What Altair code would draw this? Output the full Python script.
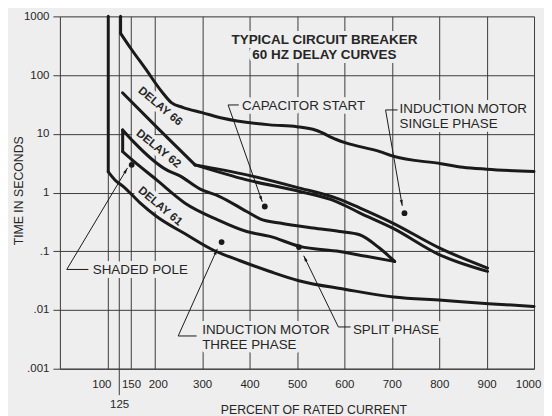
import math
import altair as alt
import pandas as pd

W, H = 475, 353
BG = "#eeeeee"
INK = "#1a1a1a"
GRID = "#3c3c3c"
TXT = "#262626"
FONT = "Liberation Sans"

# ---------------- axes ----------------
x_ticks = [100, 125, 150, 200, 300, 400, 500, 600, 700, 800, 900, 1000]
y_ticks = [0.001, 0.01, 0.1, 1, 10, 100, 1000]

# ---------------- curves (percent of rated current, seconds) ----------------
# DELAY 61
d61_vx = [102, 102]
d61_vt = [1000, 2.25]
d61_x = [102, 116, 134, 169, 204, 264, 323, 380, 443, 504, 603, 704, 806, 904, 1000]
d61_t = [2.25, 1.64, 1.265, 0.668, 0.391, 0.1985, 0.105, 0.069, 0.0453, 0.0315,
         0.0224, 0.0166, 0.0146, 0.0128, 0.0115]
# DELAY 66
d66_vx = [128, 128]
d66_vt = [1000, 514]
d66_x = [128, 150, 180, 215, 235, 260, 300, 344, 443, 500, 540, 583, 603, 675, 701,
         804, 850, 900, 1000]
d66_t = [514, 281, 130, 52, 34, 28, 23, 18.4, 14.2, 13.2, 11.5, 8.0, 7.0, 4.98, 4.2,
         3.1, 2.7, 2.5, 2.28]
# DELAY 62 entry line and its two branches
d62_px = [132, 210, 285]
d62_pt = [50, 11.65, 2.96]
d62lo_x = [285, 394, 506, 583, 632, 702, 801, 902]
d62lo_t = [2.96, 1.644, 1.04, 0.703, 0.452, 0.248, 0.087, 0.0454]
d62hi_x = [285, 394, 506, 583, 632, 702, 801, 902]
d62hi_t = [2.96, 2.0, 1.188, 0.803, 0.549, 0.302, 0.113, 0.0518]
# closed band (upper edge, lower edge, left side)
bu_x = [132.4, 155, 225, 253, 295, 337, 394, 422, 464, 534, 590, 632, 674, 706]
bu_t = [11.66, 7.37, 2.43, 1.92, 1.156, 0.855, 0.475, 0.357, 0.302, 0.248, 0.217,
        0.191, 0.1135, 0.067]
bl_x = [132.4, 148, 204, 264, 333, 394, 443, 506, 590, 646, 706]
bl_t = [4.98, 3.85, 1.64, 0.66, 0.343, 0.217, 0.179, 0.121, 0.099, 0.082, 0.067]
band_vx = [132.4, 132.4]
band_vt = [11.66, 4.98]

# ---------------- motor type markers ----------------
dot_x = [432.1, 726.8, 151.4, 341.0, 504.3]
dot_t = [0.578, 0.446, 2.96, 0.1434, 0.118]
# leader lines: stub end, corner, arrow tip
lead_names = ["cap", "single", "shaded", "three", "split"]
lead_x = [[377.3, 354.8, 426.8], [712.2, 686.9, 722.1], [60.0, 14.5, 142.6],
          [288.3, 249.5, 332.0], [613.2, 587.3, 514.2]]
lead_t = [[31.0, 31.0, 0.695], [25.5, 25.5, 0.594], [0.049, 0.049, 2.63],
          [0.00361, 0.00361, 0.110], [0.00514, 0.00514, 0.0838]]

lab_text = ["CAPACITOR START", "INDUCTION MOTOR", "SINGLE PHASE", "SHADED POLE",
            "INDUCTION MOTOR", "THREE PHASE", "SPLIT PHASE"]
lab_x = [384.3, 716.4, 716.4, 69.3, 300.1, 300.1, 618]
lab_t = [25.5, 22.35, 12.45, 0.0403, 0.00395, 0.00214, 0.00395]

title_text = ["TYPICAL CIRCUIT BREAKER", "60 HZ DELAY CURVES"]
title_x = [558, 558]
title_t = [344.7, 191.6]

delay_text = ["DELAY 66", "DELAY 62", "DELAY 61"]
delay_x = [211, 207.4, 211]
delay_t = [29.0, 5.5, 0.578]
delay_ang = [40, 39, 40]


# ---------------- frames ----------------
def rows(name, xs, ts):
    return [{"s": name, "o": i, "x": a, "t": b} for i, (a, b) in enumerate(zip(xs, ts))]


curve_df = pd.DataFrame(rows("d61", d61_x, d61_t) + rows("d66", d66_x, d66_t)
                        + rows("d62lo", d62lo_x, d62lo_t) + rows("d62hi", d62hi_x, d62hi_t)
                        + rows("bu", bu_x, bu_t) + rows("bl", bl_x, bl_t))
straight_df = pd.DataFrame(rows("v61", d61_vx, d61_vt) + rows("v66", d66_vx, d66_vt)
                           + rows("vb", band_vx, band_vt) + rows("p62", d62_px, d62_pt))
lead_rows = []
for n, xs, ts in zip(lead_names, lead_x, lead_t):
    lead_rows += rows(n, xs, ts)
lead_df = pd.DataFrame(lead_rows)


def to_px(x, t):
    return W * x / 1000.0, H * (3 - math.log10(t)) / 6.0


arrow_rows = []
for xs, ts in zip(lead_x, lead_t):
    ax, ay = to_px(xs[1], ts[1])
    bx, by = to_px(xs[2], ts[2])
    ang = math.degrees(math.atan2(bx - ax, -(by - ay))) % 360
    arrow_rows.append({"x": xs[2], "t": ts[2], "a": ang})
arrow_df = pd.DataFrame(arrow_rows)

dot_df = pd.DataFrame({"x": dot_x, "t": dot_t})
lab_df = pd.DataFrame({"x": lab_x, "t": lab_t, "txt": lab_text})
title_df = pd.DataFrame({"x": title_x, "t": title_t, "txt": title_text})
delay_df = pd.DataFrame({"x": delay_x, "t": delay_t, "txt": delay_text, "a": delay_ang})

# ---------------- scales / axes ----------------
xscale = alt.Scale(domain=[0, 1000], nice=False, zero=False)
yscale = alt.Scale(type="log", domain=[0.001, 1000], nice=False)

xaxis = alt.Axis(
    values=x_ticks, format="d", title="PERCENT OF RATED CURRENT",
    grid=True, gridColor=GRID, gridWidth=1, gridOpacity=1,
    domainColor=GRID, domainWidth=1,
    ticks=True, tickColor=GRID, tickWidth=1,
    tickSize={"condition": {"test": "datum.value === 125", "value": 26}, "value": 0},
    labelPadding={"condition": {"test": "datum.value === 125", "value": 4}, "value": 10},
    labelOffset={"condition": [{"test": "datum.value === 100", "value": -6},
                               {"test": "datum.value === 200", "value": 3},
                               {"test": "datum.value === 1000", "value": -6}],
                 "value": 0},
    labelFlush=False, labelOverlap=False, labelColor=TXT, labelFont=FONT,
    labelFontSize=11.5,
    titleFont=FONT, titleFontSize=12.3, titleFontWeight="normal", titleColor=TXT,
    titleX=254, titleY=44.5, titleAlign="center", titleBaseline="alphabetic",
)
yaxis = alt.Axis(
    values=y_ticks,
    labelExpr="datum.value >= 1 ? format(datum.value, 'd') : '.' + slice(format(datum.value, '.3~f'), 2)",
    title="TIME IN SECONDS",
    grid=True, gridColor=GRID, gridWidth=1, gridOpacity=1,
    domainColor=GRID, domainWidth=1,
    tickColor=GRID, tickWidth=1, tickSize=7,
    labelPadding=4, labelFlush=False, labelOverlap=False, labelColor=TXT,
    labelFont=FONT, labelFontSize=11.5,
    titleFont=FONT, titleFontSize=12.3, titleFontWeight="normal", titleColor=TXT,
    titleX=-37.3, titleY=174.3, titleAngle=270, titleAlign="center",
    titleBaseline="alphabetic",
)

X = alt.X("x:Q", scale=xscale, axis=xaxis)
Y = alt.Y("t:Q", scale=yscale, axis=yaxis)


def text_pair(df, size, weight="normal", align="left", baseline="alphabetic", angle=False):
    enc = dict(x=X, y=Y, text="txt:N")
    if angle:
        enc["angle"] = alt.Angle("a:Q", scale=None)
    halo = alt.Chart(df).mark_text(
        font=FONT, fontSize=size, fontWeight=weight, align=align, baseline=baseline,
        fill=BG, stroke=BG, strokeWidth=8, strokeJoin="round",
    ).encode(**enc)
    txt = alt.Chart(df).mark_text(
        font=FONT, fontSize=size, fontWeight=weight, align=align, baseline=baseline,
        color=TXT,
    ).encode(**enc)
    return halo, txt


lab_halo, lab_txt = text_pair(lab_df, 13.4)
tit_halo, tit_txt = text_pair(title_df, 13.5, weight="bold", align="center")
del_halo, del_txt = text_pair(delay_df, 11.5, weight="bold", align="center",
                              baseline="middle", angle=True)

leaders = alt.Chart(lead_df).mark_line(color=INK, strokeWidth=1, interpolate="linear").encode(
    x=X, y=Y, detail="s:N", order="o:Q")

curves = alt.Chart(curve_df).mark_line(
    color=INK, strokeWidth=3, interpolate="monotone", strokeCap="round", strokeJoin="round"
).encode(x=X, y=Y, detail="s:N", order="o:Q")

straights = alt.Chart(straight_df).mark_line(
    color=INK, strokeWidth=3, interpolate="linear", strokeCap="round", strokeJoin="round"
).encode(x=X, y=Y, detail="s:N", order="o:Q")

dots = alt.Chart(dot_df).mark_circle(color=INK, size=34, opacity=1).encode(x=X, y=Y)

arrows = alt.Chart(arrow_df).mark_point(
    shape="M0,0L0.5,2L-0.5,2Z", filled=True, color=INK, size=36, opacity=1
).encode(x=X, y=Y, angle=alt.Angle("a:Q", scale=None))

chart = alt.layer(
    tit_halo, lab_halo, del_halo,
    leaders, curves, straights, dots, arrows,
    tit_txt, lab_txt, del_txt,
).properties(
    width=W, height=H,
    autosize=alt.AutoSizeParams(type="none"),
    padding={"left": 52, "top": 8, "right": 10, "bottom": 50},
    background=BG,
).configure_view(stroke=None).configure(font=FONT)

chart.save("out.html", embed_options={"renderer": "svg", "actions": False})
